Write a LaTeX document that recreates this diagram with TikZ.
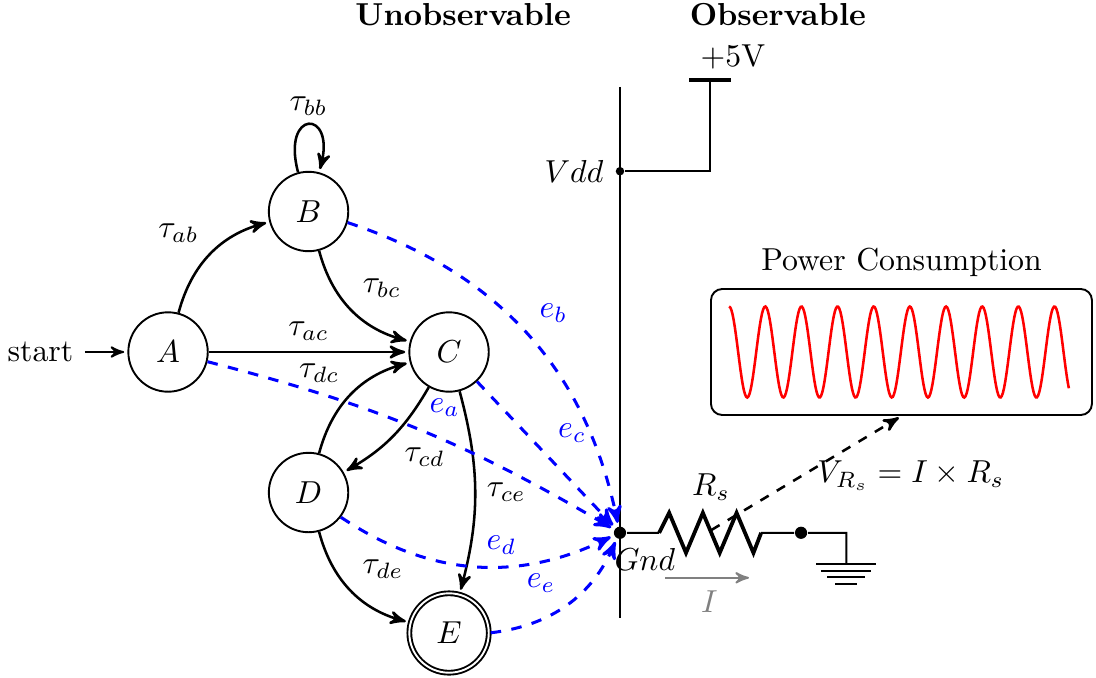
\documentclass[tikz,border=0pt]{standalone}
\usepackage{amsmath, amssymb}
\usepackage{xcolor}
\usetikzlibrary{arrows, automata, positioning, calc}

\begin{document}
\begin{tikzpicture}[scale=1.0363,->,>=stealth',shorten >=1pt,auto,semithick,
	dot/.style={circle,fill=black,draw=none,inner sep=0pt,minimum size=#1},
	leak/.style={blue,line width=0.95pt,dash pattern=on 3.3pt off 3.3pt},
	wire/.style={-,shorten >=0pt}]
	
	\useasboundingbox (-1.794,-3.48) rectangle (9.907,3.758);
	
	% States
	\node[initial,state,initial text=start] (A) at (0,0) {$A$};
	\node[state] (B) at (1.5,1.5) {$B$};
	\node[state] (C) at (3,0) {$C$};
	\node[state] (D) at (1.5,-1.5) {$D$};
	\node[state,accepting] (E) at (3,-3) {$E$};
	
	% Headings
	\node at (3.15,3.6) {\textbf{Unobservable}};
	\node at (6.51,3.6) {\textbf{Observable}};
	
	% Rail
	\coordinate (railtop) at (4.825,2.83);
	\coordinate (railbot) at (4.825,-2.84);
	\draw[wire,thick] (railtop) -- (railbot);
	\node[dot=0.094cm] (vdd) at (4.825,1.93) {};
	\node[dot=0.135cm] (gnd) at (4.825,-1.93) {};
	\node[left=0pt of vdd] (vddlabel) {$Vdd$};
	\node (gndlabel) at (5.09,-2.22) {$Gnd$};
	
	% Supply
	\coordinate (vcc) at (5.786,2.9);
	\coordinate (vccl) at (5.566,2.9);
	\coordinate (vccr) at (6.006,2.9);
	\draw[wire] (vdd) -| (vcc);
	\draw[wire,line width=1.2pt] (vccl) -- (vccr);
	\node (plus) at (6.03,3.15) {+5V};
	
	% Sense resistor
	\coordinate (rsl) at (5.242,-1.93);
	\coordinate (rsr) at (6.331,-1.93);
	\coordinate (rs) at (5.8,-1.9);
	\draw[wire] (gnd) -- (rsl);
	\draw[wire,line width=1.2pt] (rsl) -- ++(0.107,0.213)
		-- ++(0.18,-0.427) -- ++(0.18,0.427) -- ++(0.18,-0.427)
		-- ++(0.18,0.427) -- ++(0.18,-0.427) -- (rsr);
	\node (rslabel) at (5.797,-1.44) {$R_s$};
	\node[dot=0.135cm] (tap) at (6.758,-1.93) {};
	\coordinate (earth) at (7.24,-2.263);
	\draw[wire] (rsr) -- (tap) -| (earth);
	
	% Ground bars
	\foreach \y/\w in {-2.263/0.32, -2.338/0.27, -2.402/0.2, -2.477/0.118}{
		\draw[wire] (7.24-\w,\y) -- (7.24+\w,\y);
	}
	
	% Current arrow
	\coordinate (il) at (5.306,-2.41);
	\coordinate (ir) at (6.235,-2.41);
	\draw[gray] (il) -- (ir);
	\node[gray] (ilabel) at (5.78,-2.67) {$I$};
	
	% Power trace
	\node[draw,-,rounded corners=0.124cm,minimum width=4.215cm,minimum height=1.394cm] (pwr) at (7.83,0) {};
	\node[above=0pt of pwr] (pwrlabel) {Power Consumption};
	\draw[wire,red,thick,domain=0:3.63,samples=300] plot ({5.99+\x},{0.486*cos(\x*360/0.386)});
	
	\draw[dashed,thick] (rs) -- (pwr.south);
	\node (vrs) at (7.93,-1.32) {$V_{R_s} = I \times R_s$};
	
	% Transitions
	\path[thick] (A) edge[bend left] node {$\tau_{ab}$} (B)
		edge node {$\tau_{ac}$} (C)
		(B) edge[loop above] node[inner sep=2.6pt] {$\tau_{bb}$} (B)
		edge[bend right] node {$\tau_{bc}$} (C)
		(C) edge[bend left=15] node {$\tau_{cd}$} (D)
		edge[bend left=15] node {$\tau_{ce}$} (E)
		(D) edge[bend left] node {$\tau_{dc}$} (C)
		edge[bend right] node {$\tau_{de}$} (E);
	
	% Leakage paths
	\path[leak] (A) edge[bend left=8] node {$e_a$} (gnd)
		(B) edge[bend left] node {$e_b$} (gnd)
		(C) edge node {$e_c$} (gnd)
		(D) edge[bend right] node {$e_d$} (gnd)
		(E) edge[bend right] node {$e_e$} (gnd);
	
\end{tikzpicture}
\end{document}
